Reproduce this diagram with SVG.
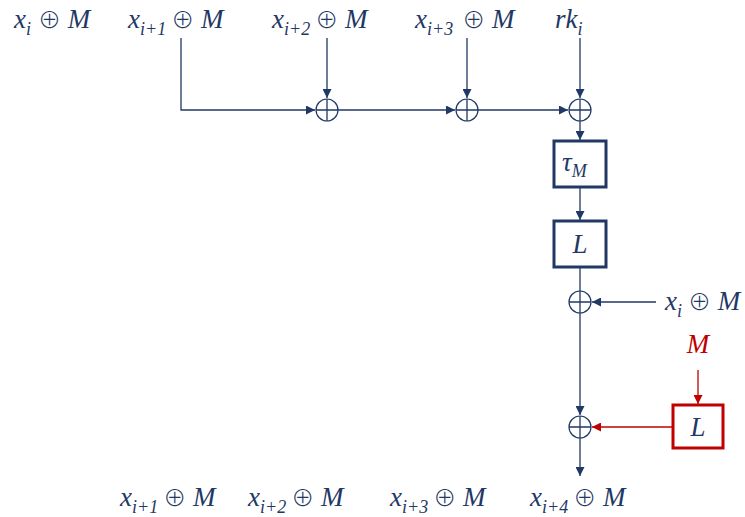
<svg xmlns="http://www.w3.org/2000/svg" width="745" height="517" viewBox="0 0 745 517">
<style>
.t{font-family:"Liberation Serif","DejaVu Serif",serif;font-style:italic;font-size:27px;fill:#1f3864}
.s{font-size:18px}
.o{font-family:"Noto Sans CJK SC","DejaVu Sans",sans-serif;font-style:normal;font-weight:300;font-size:23px}
.red{fill:#c00000}
.ln{stroke:#1f3864;stroke-width:1.3;fill:none}
.rl{stroke:#c00000;stroke-width:1.3;fill:none}
.x{stroke:#1f3864;stroke-width:1.2;fill:#fff}
.box{stroke:#1f3864;stroke-width:3;fill:#fff}
.rbox{stroke:#c00000;stroke-width:3;fill:#fff}
</style>
<defs>
<marker id="a" viewBox="0 0 10 10" refX="10" refY="5" markerWidth="9" markerHeight="9" markerUnits="userSpaceOnUse" orient="auto"><path d="M0,0L10,5L0,10z" fill="#1f3864"/></marker>
<marker id="ar" viewBox="0 0 10 10" refX="10" refY="5" markerWidth="9" markerHeight="9" markerUnits="userSpaceOnUse" orient="auto"><path d="M0,0L10,5L0,10z" fill="#c00000"/></marker>
<g id="xor"><circle r="11" class="x"/><path d="M-11,0H11M0,-11V11" class="ln" stroke-width="1.2"/></g>
</defs>

<g id="labels-top">
<text class="t" x="14" y="28">x<tspan class="s" dy="7">i</tspan><tspan class="o" dx="7" dy="-7">⊕</tspan> M</text>
<text class="t" x="128" y="28">x<tspan class="s" dy="7">i+1</tspan><tspan class="o" dx="5" dy="-7">⊕</tspan> M</text>
<text class="t" x="272" y="28">x<tspan class="s" dy="7">i+2</tspan><tspan class="o" dx="5" dy="-7">⊕</tspan> M</text>
<text class="t" x="415" y="28">x<tspan class="s" dy="7">i+3</tspan><tspan class="o" dx="9" dy="-7">⊕</tspan> M</text>
<text class="t" x="555" y="28">rk<tspan class="s" dy="7">i</tspan></text>
</g>

<g id="connectors">
<path d="M181,38V110H315" class="ln" marker-end="url(#a)"/>
<path d="M327,38V98" class="ln" marker-end="url(#a)"/>
<path d="M338,110H455" class="ln" marker-end="url(#a)"/>
<path d="M467,38V98" class="ln" marker-end="url(#a)"/>
<path d="M478,110H568" class="ln" marker-end="url(#a)"/>
<path d="M580,38V98" class="ln" marker-end="url(#a)"/>
<path d="M580,121V140" class="ln" marker-end="url(#a)"/>
<path d="M580,187V220" class="ln" marker-end="url(#a)"/>
<path d="M580,267V291" class="ln"/>
<path d="M656,302H592" class="ln" marker-end="url(#a)"/>
<path d="M580,313V415" class="ln" marker-end="url(#a)"/>
<path d="M698,370V404" class="rl" marker-end="url(#ar)"/>
<path d="M672,427H592" class="rl" marker-end="url(#ar)"/>
<path d="M580,438V476" class="ln" marker-end="url(#a)"/>
</g>

<g id="xor1"><use href="#xor" x="327" y="110"/></g>
<g id="xor2"><use href="#xor" x="467" y="110"/></g>
<g id="xor3"><use href="#xor" x="580" y="110"/></g>
<g id="tau"><rect x="554" y="141" width="52" height="46" class="box"/><text class="t" x="562" y="171">τ<tspan class="s" dy="6">M</tspan></text></g>
<g id="L1"><rect x="554" y="221" width="52" height="46" class="box"/><text class="t" x="580" y="253" text-anchor="middle">L</text></g>
<g id="xor4"><use href="#xor" x="580" y="302"/></g>
<g id="in-xi"><text class="t" x="665" y="310">x<tspan class="s" dy="7">i</tspan><tspan class="o" dx="6" dy="-7">⊕</tspan> M</text></g>
<g id="in-M"><text class="t red" x="698" y="353" text-anchor="middle">M</text></g>
<g id="L2"><rect x="673" y="405" width="50" height="43" class="rbox"/><text class="t" x="698" y="436" text-anchor="middle">L</text></g>
<g id="xor5"><use href="#xor" x="580" y="427"/></g>

<g id="labels-bottom">
<text class="t" x="120" y="506">x<tspan class="s" dy="7">i+1</tspan><tspan class="o" dx="5" dy="-7">⊕</tspan> M</text>
<text class="t" x="248" y="506">x<tspan class="s" dy="7">i+2</tspan><tspan class="o" dx="5" dy="-7">⊕</tspan> M</text>
<text class="t" x="390" y="506">x<tspan class="s" dy="7">i+3</tspan><tspan class="o" dx="5" dy="-7">⊕</tspan> M</text>
<text class="t" x="530" y="506">x<tspan class="s" dy="7">i+4</tspan><tspan class="o" dx="5" dy="-7">⊕</tspan> M</text>
</g>
</svg>
